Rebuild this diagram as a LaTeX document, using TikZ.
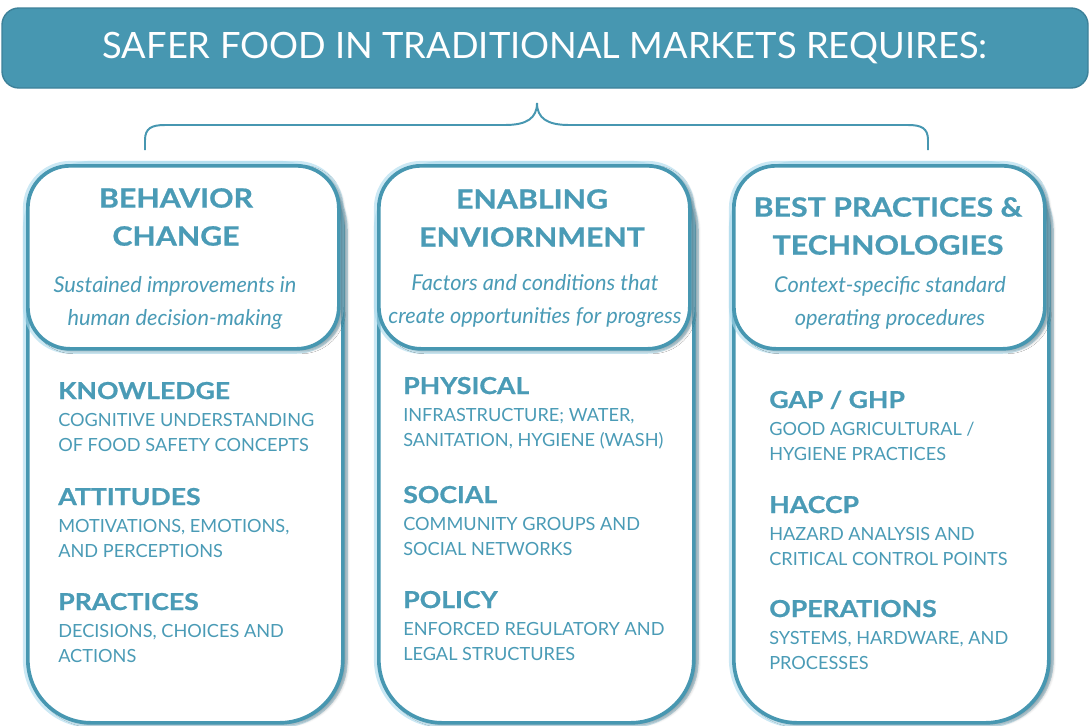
\documentclass[tikz,border=0pt]{standalone}
\usepackage{fontspec}
\setmainfont{Lato}
\newfontfamily\headfont[FakeStretch=1.14,FakeBold=0.8]{Lato}
\usepackage{tikz}
\usetikzlibrary{shadows.blur,calc}
\definecolor{sfteal}{HTML}{4797B1}
\definecolor{sfedge}{HTML}{3D8199}
\definecolor{sftext}{HTML}{4A9BB6}
\definecolor{sfglow}{HTML}{A9D9EC}
\tikzset{
  banner/.style={draw=sfedge,line width=1pt,fill=sfteal,rounded corners=12,text=white,
    font=\fontsize{25.8}{30}\selectfont},
  colbox/.style={draw=sfteal,line width=2.6pt,fill=white,rounded corners=#1,
    preaction={draw=sfglow,line width=7pt,opacity=0.6},
    blur shadow={shadow xshift=3pt,shadow yshift=-1.5pt,shadow opacity=30,shadow blur steps=6}},
  coltitle/.style={text=sftext,align=center,font=\headfont\bfseries\fontsize{18.9}{27}\selectfont},
  colsub/.style={text=sftext,align=center,font=\itshape\fontsize{15.5}{23.5}\selectfont},
  itemhead/.style={text=sftext,anchor=base west,inner sep=0,font=\headfont\bfseries\fontsize{16.6}{20}\selectfont},
  itemtext/.style={text=sftext,anchor=base west,inner sep=0,font=\fontsize{12.9}{18.1}\selectfont},
}
\begin{document}
\begin{tikzpicture}[x=0.025cm,y=-0.025cm]
  \useasboundingbox (0,0) rectangle (1090,725);

  % banner
  \node[banner,minimum width=1086*0.025cm,minimum height=80*0.025cm] (banner) at (545,48)
    {SAFER FOOD IN TRADITIONAL MARKETS REQUIRES:};

  % brace
  \coordinate (brace tip) at (537,103);
  \coordinate (brace left) at (145,150);
  \coordinate (brace right) at (928,150);
  \draw[sfteal,line width=1.4pt]
    (brace left) -- (145,140) .. controls (145,128) and (152,125) .. (165,125) -- (505,125)
    .. controls (527,125) and (537,118) .. (brace tip)
    .. controls (537,118) and (547,125) .. (569,125) -- (908,125)
    .. controls (921,125) and (928,128) .. (928,140) -- (brace right);

  % columns
  \foreach \i/\xl in {1/26,2/377,3/732}{
    \node[colbox=45,minimum width=315*0.025cm,minimum height=557*0.025cm,anchor=north west]
      (col\i) at (\xl,164) {};
    \node[colbox=30,minimum width=311*0.025cm,minimum height=183*0.025cm,anchor=north west]
      (top\i) at (\xl,164) {};
  }

  % column titles
  \node[coltitle] (title1) at (176,217) {BEHAVIOR\\CHANGE};
  \node[colsub] (sub1) at (175,303) {Sustained improvements in\\human decision-making};
  \node[coltitle] (title2) at (532,218) {ENABLING\\ENVIORNMENT};
  \node[colsub] (sub2) at (535,301) {Factors and conditions that\\create opportunities for progress};
  \node[coltitle] (title3) at (888,226) {BEST PRACTICES \&\\TECHNOLOGIES};
  \node[colsub] (sub3) at (890,303) {Context-specific standard\\operating procedures};

  % column items
  \foreach \x/\y/\head/\lineA/\lineB [count=\n] in {
    58/399/{KNOWLEDGE}/{COGNITIVE UNDERSTANDING}/{OF FOOD SAFETY CONCEPTS},
    58/505/{ATTITUDES}/{MOTIVATIONS, EMOTIONS,}/{AND PERCEPTIONS},
    58/610/{PRACTICES}/{DECISIONS, CHOICES AND}/{ACTIONS},
    403/394/{PHYSICAL}/{INFRASTRUCTURE; WATER,}/{SANITATION, HYGIENE (WASH)},
    403/503/{SOCIAL}/{COMMUNITY GROUPS AND}/{SOCIAL NETWORKS},
    403/608/{POLICY}/{ENFORCED REGULATORY AND}/{LEGAL STRUCTURES},
    769/408/{GAP / GHP}/{GOOD AGRICULTURAL /}/{HYGIENE PRACTICES},
    769/513/{HACCP}/{HAZARD ANALYSIS AND}/{CRITICAL CONTROL POINTS},
    769/617/{OPERATIONS}/{SYSTEMS, HARDWARE, AND}/{PROCESSES}}{
    \node[itemhead] (head\n) at (\x,\y) {\head};
    \node[itemtext] (textA\n) at (\x,\y+27) {\lineA};
    \node[itemtext] (textB\n) at (\x,\y+52) {\lineB};
  }

\end{tikzpicture}
\end{document}
